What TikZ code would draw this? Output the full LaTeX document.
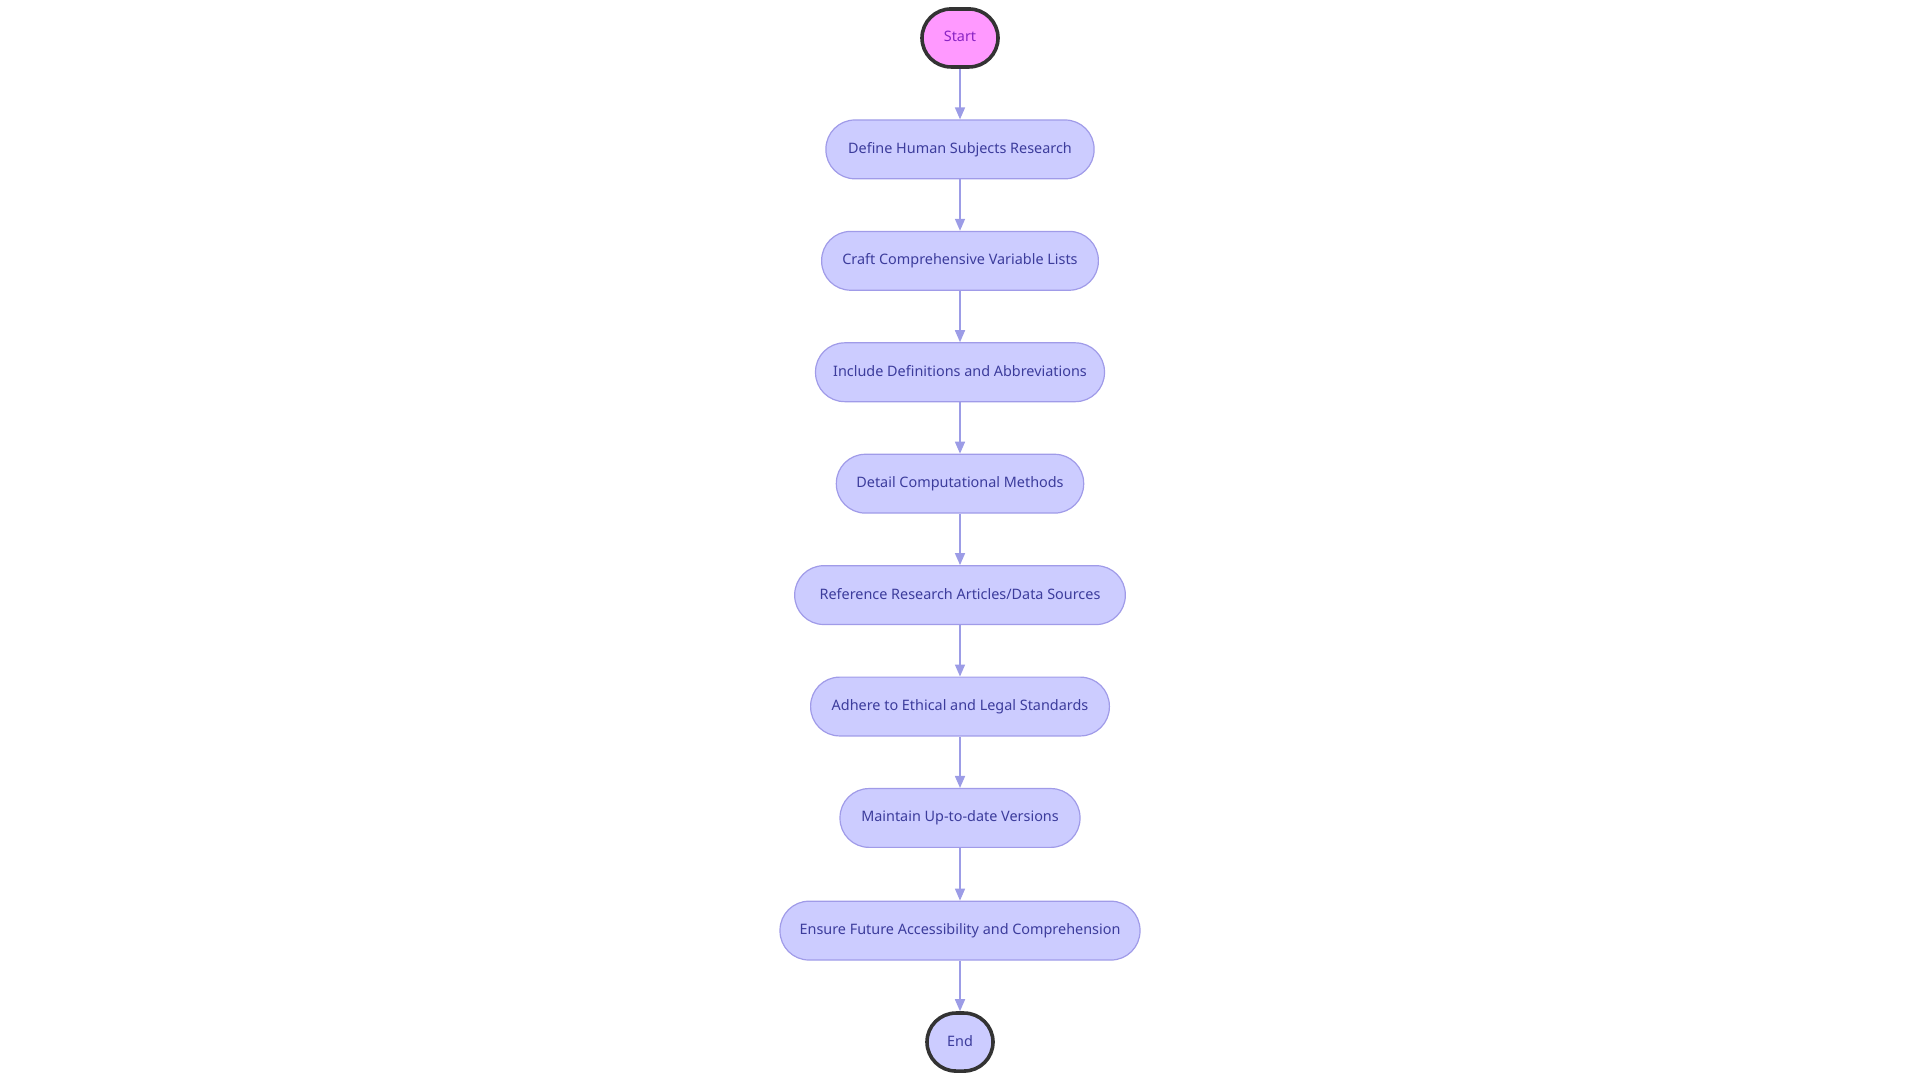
\documentclass[tikz,border=0pt]{standalone}
\usepackage{fontspec}
\setmainfont{Noto Sans}
\usetikzlibrary{arrows.meta}
\definecolor{nfill}{HTML}{CCCCFF}
\definecolor{nline}{HTML}{A09BE8}
\definecolor{ntext}{HTML}{3C3C9C}
\definecolor{sfill}{HTML}{FF99FF}
\definecolor{dark}{HTML}{333333}
\definecolor{arr}{HTML}{9C9CE6}
\begin{document}
\begin{tikzpicture}[x=0.6122pt,y=-0.6122pt,
  stepbox/.style={rounded corners=14.5pt,draw=nline,fill=nfill,line width=0.6pt,text=ntext,font=\fontsize{7.2}{9}\selectfont,minimum height=29.4pt,inner xsep=0pt,text height=5.4pt,text depth=1.4pt},
  term/.style={rounded corners=14.5pt,draw=dark,fill=#1,line width=1.8pt,text=ntext,font=\fontsize{7.2}{9}\selectfont,minimum height=29pt,inner xsep=0pt,text height=5.4pt,text depth=1.4pt},
  conn/.style={draw=arr,line width=0.8pt,-{Triangle[length=6pt,width=5pt]}}]
\useasboundingbox (0,0) rectangle (1568,882);
\node[term=sfill,minimum width=38pt,text=ntext!60!magenta] (s) at (784,31) {Start};
\node[stepbox,minimum width=219*0.6122pt] (n1) at (784,122) {Define Human Subjects Research};
\node[stepbox,minimum width=226*0.6122pt] (n2) at (784,213) {Craft Comprehensive Variable Lists};
\node[stepbox,minimum width=236*0.6122pt] (n3) at (784,304) {Include Definitions and Abbreviations};
\node[stepbox,minimum width=202*0.6122pt] (n4) at (784,395) {Detail Computational Methods};
\node[stepbox,minimum width=270*0.6122pt] (n5) at (784,486) {Reference Research Articles/Data Sources};
\node[stepbox,minimum width=244*0.6122pt] (n6) at (784,577) {Adhere to Ethical and Legal Standards};
\node[stepbox,minimum width=196*0.6122pt] (n7) at (784,668) {Maintain Up-to-date Versions};
\node[stepbox,minimum width=294*0.6122pt] (n8) at (784,760) {Ensure Future Accessibility and Comprehension};
\node[term=nfill,minimum width=33pt] (e) at (784,851) {End};
\foreach \a/\b in {s/n1,n1/n2,n2/n3,n3/n4,n4/n5,n5/n6,n6/n7,n7/n8,n8/e}
  \draw[conn] (\a) -- (\b);
\end{tikzpicture}
\end{document}
